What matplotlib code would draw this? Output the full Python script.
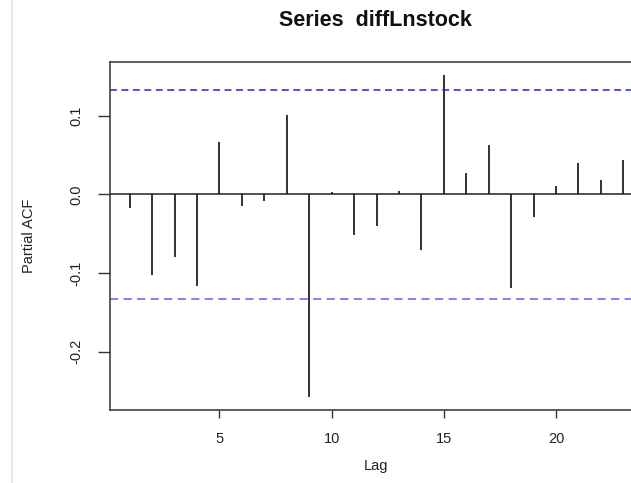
import matplotlib
matplotlib.use("Agg")
import matplotlib.pyplot as plt
from matplotlib.lines import Line2D

plt.rcParams['font.family'] = ['Liberation Sans', 'DejaVu Sans']

# partial autocorrelation per lag
lags = list(range(1, 24))
pacf = [-0.018, -0.103, -0.080, -0.116, 0.067, -0.015, -0.008, 0.101,
        -0.258, 0.003, -0.052, -0.040, 0.004, -0.071, 0.152, 0.027,
        0.062, -0.119, -0.029, 0.010, 0.040, 0.018, 0.044]
conf = 0.133
xticks = [5, 10, 15, 20]
yticks = [-0.2, -0.1, 0.0, 0.1]

fig = plt.figure(figsize=(6.31, 4.83), dpi=100)
# plot box runs past the right edge, like the cropped original
ax = fig.add_axes([110 / 631, 73 / 483, 533 / 631, 348 / 483])

ax.vlines(lags, 0, pacf, color='#222222', lw=1.3)
ax.axhline(0, color='#222222', lw=1.1)
ax.axhline(conf, color='#2020dd', lw=1.1, ls=(0, (4.5, 3)))
ax.axhline(-conf, color='#7777ee', lw=1.3, ls=(0, (4.5, 3)))

ax.set_xlim(0.12, 23.88)
ax.set_ylim(-0.274, 0.168)
ax.set_xticks(xticks)
ax.set_xticklabels([str(t) for t in xticks])
ax.set_yticks(yticks)
ax.set_yticklabels(['-0.2', '-0.1', '0.0', '0.1'], rotation=90, va='center')
ax.tick_params(axis='both', labelsize=10.5, colors='#333333', labelcolor='#222222',
               width=1.0)
ax.tick_params(axis='y', length=8.6, pad=10.5)
ax.tick_params(axis='x', length=6, pad=9.5)
for s in ax.spines.values():
    s.set_color('#333333')
    s.set_linewidth(1.1)

ax.set_xlabel('Lag', fontsize=10.5, color='#222222', labelpad=10)
ax.set_ylabel('Partial ACF', fontsize=10.5, color='#222222', labelpad=24)
fig.text(375 / 631, 1 - 21 / 483, 'Series  diffLnstock', ha='center', va='center',
         fontsize=15.5, fontweight='bold', color='#111111')

# faint page margin line on the left
fig.add_artist(Line2D([12 / 631, 12 / 631], [0, 1], color='#d6e6f4', lw=1.2,
                      transform=fig.transFigure))

fig.savefig('out.png', dpi=100)
